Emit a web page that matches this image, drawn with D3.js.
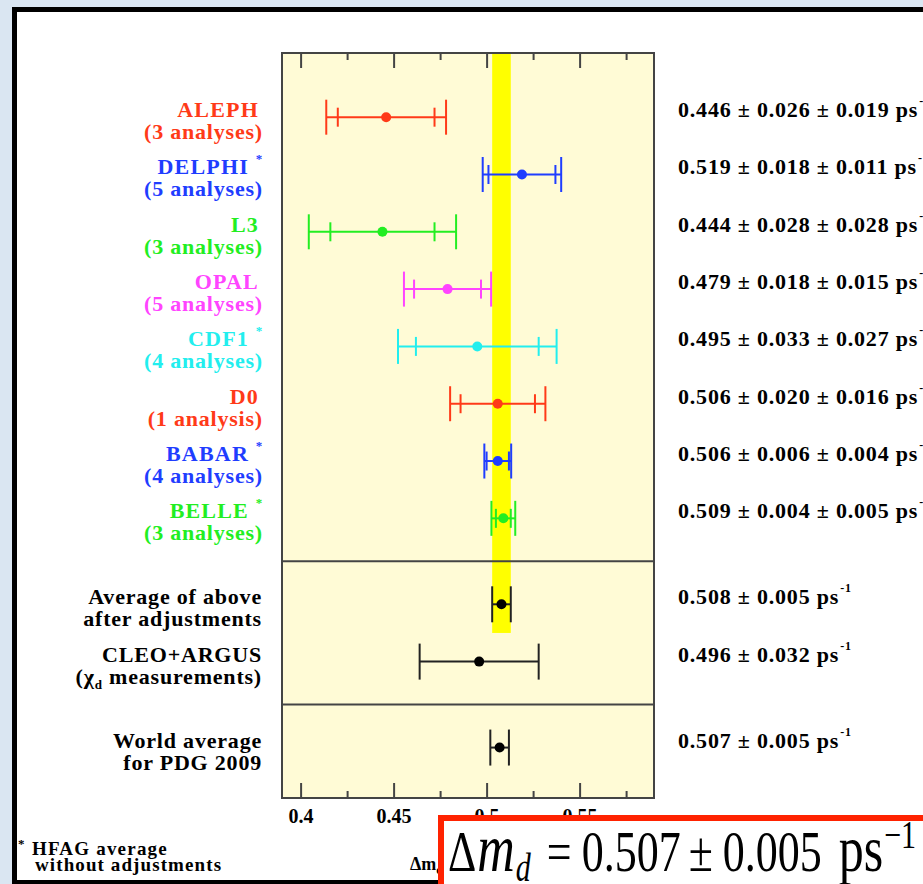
<!DOCTYPE html>
<html>
<head>
<meta charset="utf-8">
<script src="https://cdn.jsdelivr.net/npm/d3@7"></script>
<style>
  html, body { margin: 0; padding: 0; background: #dae6f2; }
  svg { display: block; }
  text { font-family: "Liberation Serif", "Times New Roman", serif; }
</style>
</head>
<body>
<svg id="chart" width="923" height="884"></svg>
<script>
// B0 mixing frequency measurements (ps^-1)
const experiments = ["ALEPH", "DELPHI", "L3", "OPAL", "CDF1", "D0", "BABAR", "BELLE"];
const analyses = ["(3 analyses)", "(5 analyses)", "(3 analyses)", "(5 analyses)",
                  "(4 analyses)", "(1 analysis)", "(4 analyses)", "(3 analyses)"];
const hfagAverage = [false, true, false, false, true, false, true, true];
const expValues = [0.446, 0.519, 0.444, 0.479, 0.495, 0.506, 0.506, 0.509];
const statErrors = [0.026, 0.018, 0.028, 0.018, 0.033, 0.020, 0.006, 0.004];
const systErrors = [0.019, 0.011, 0.028, 0.015, 0.027, 0.016, 0.004, 0.005];
const expColors = ["#ff3a18", "#1f3dff", "#22ee22", "#ff44ff", "#22eeee", "#ff3a18", "#1f3dff", "#22ee22"];

const combinedLines = [["Average of above", "after adjustments"], ["CLEO+ARGUS", "(χ|d| measurements)"]];
const combinedValues = [0.508, 0.496];
const combinedErrors = [0.005, 0.032];

const worldLines = ["World average", "for PDG 2009"];
const worldValue = 0.507;
const worldError = 0.005;

const majorTicks = [0.40, 0.45, 0.50, 0.55];
const majorTickLabels = ["0.4", "0.45", "0.5", "0.55"];
const minorTicks = [0.425, 0.475, 0.525, 0.575];

const svg = d3.select("#chart");
const LS = 0.8; // letter spacing of the label texts

// page frame
svg.append("rect").attr("x", 14.5).attr("y", 9.5).attr("width", 1000).attr("height", 873)
  .attr("fill", "#ffffff").attr("stroke", "#000").attr("stroke-width", 5);

// scales: x in ps^-1, y in row slots (groups separated by half a slot)
const x = d3.scaleLinear().domain([0.39, 0.59]).range([282, 654]);
const y = d3.scaleLinear().domain([-1.12, 11.88]).range([53, 798]);

const expSlots = experiments.map((d, i) => i);
const combinedStart = expSlots[expSlots.length - 1] + 1.5;
const combinedSlots = combinedValues.map((d, i) => combinedStart + i);
const worldSlot = combinedSlots[combinedSlots.length - 1] + 1.5;
const separators = [
  (expSlots[expSlots.length - 1] + combinedSlots[0]) / 2,
  (combinedSlots[combinedSlots.length - 1] + worldSlot) / 2
];

const [x0, x1] = x.range();
const [y0, y1] = y.range();

// plot panel
svg.append("rect").attr("x", x0).attr("y", y0).attr("width", x1 - x0).attr("height", y1 - y0)
  .attr("fill", "#fffbd6");

// yellow band: average of the measurements above
const avg = combinedValues[0], avgErr = combinedErrors[0];
svg.append("rect")
  .attr("x", x(avg - avgErr)).attr("y", y0)
  .attr("width", x(avg + avgErr) - x(avg - avgErr))
  .attr("height", y(combinedSlots[0] + 0.5) - y0)
  .attr("fill", "#ffff00");

// group separators
svg.selectAll("line.sep").data(separators).join("line")
  .attr("class", "sep")
  .attr("x1", x0).attr("x2", x1)
  .attr("y1", d => y(d)).attr("y2", d => y(d))
  .attr("stroke", "#444").attr("stroke-width", 2);

// panel border
svg.append("rect").attr("x", x0).attr("y", y0).attr("width", x1 - x0).attr("height", y1 - y0)
  .attr("fill", "none").attr("stroke", "#444").attr("stroke-width", 2);

// axes
const axisFont = g => g.selectAll("text")
  .attr("font-family", "Liberation Serif, serif").attr("font-weight", "bold")
  .attr("font-size", 20).attr("fill", "#000");

const bottomMajor = svg.append("g").attr("transform", `translate(0,${y1})`)
  .call(d3.axisBottom(x).tickValues(majorTicks).tickSizeInner(-15).tickSizeOuter(0)
    .tickPadding(11).tickFormat((d, i) => majorTickLabels[i]));
bottomMajor.call(axisFont);
const bottomMinor = svg.append("g").attr("transform", `translate(0,${y1})`)
  .call(d3.axisBottom(x).tickValues(minorTicks).tickSizeInner(-7).tickSizeOuter(0).tickFormat(""));
const topMajor = svg.append("g").attr("transform", `translate(0,${y0})`)
  .call(d3.axisTop(x).tickValues(majorTicks).tickSizeInner(-15).tickSizeOuter(0).tickFormat(""));
const topMinor = svg.append("g").attr("transform", `translate(0,${y0})`)
  .call(d3.axisTop(x).tickValues(minorTicks).tickSizeInner(-7).tickSizeOuter(0).tickFormat(""));
[bottomMajor, bottomMinor, topMajor, topMinor].forEach(g => {
  g.select(".domain").remove();
  g.selectAll(".tick line").attr("stroke", "#444").attr("stroke-width", 2);
});

// axis title
const xTitle = svg.append("text").attr("x", 410).attr("y", 870)
  .attr("font-size", 18).attr("font-weight", "bold").attr("fill", "#000");
xTitle.append("tspan").text("Δm");
xTitle.append("tspan").attr("font-size", 12).attr("dy", 4).text("d");
xTitle.append("tspan").attr("dy", -4).text(" (ps");
xTitle.append("tspan").attr("font-size", 12).attr("dy", -8).text("-1");
xTitle.append("tspan").attr("dy", 8).text(")");

// experiment error bars: stat (inner caps) and total (outer caps)
const expData = experiments.map((name, i) => ({
  name, sub: analyses[i], star: hfagAverage[i], v: expValues[i],
  stat: statErrors[i], syst: systErrors[i],
  tot: Math.sqrt(statErrors[i] ** 2 + systErrors[i] ** 2),
  color: expColors[i], slot: expSlots[i]
}));

const eg = svg.selectAll("g.exp").data(expData).join("g").attr("class", "exp")
  .attr("stroke", d => d.color).attr("fill", d => d.color);
eg.append("line").attr("x1", d => x(d.v - d.tot)).attr("x2", d => x(d.v + d.tot))
  .attr("y1", d => y(d.slot)).attr("y2", d => y(d.slot)).attr("stroke-width", 2);
[-1, 1].forEach(s => {
  eg.append("line").attr("x1", d => x(d.v + s * d.tot)).attr("x2", d => x(d.v + s * d.tot))
    .attr("y1", d => y(d.slot) - 17.5).attr("y2", d => y(d.slot) + 17.5).attr("stroke-width", 2);
  eg.append("line").attr("x1", d => x(d.v + s * d.stat)).attr("x2", d => x(d.v + s * d.stat))
    .attr("y1", d => y(d.slot) - 9.5).attr("y2", d => y(d.slot) + 9.5).attr("stroke-width", 2);
});
eg.append("circle").attr("cx", d => x(d.v)).attr("cy", d => y(d.slot)).attr("r", 5).attr("stroke", "none");

// experiment labels
const labelX = 263;
svg.selectAll("text.expname").data(expData).join("text").attr("class", "expname")
  .attr("x", d => d.star ? labelX - 14 : labelX - 4).attr("y", d => y(d.slot))
  .attr("text-anchor", "end").attr("font-size", 22).attr("font-weight", "bold")
  .attr("letter-spacing", LS + 0.4)
  .attr("fill", d => d.color).text(d => d.name);
svg.selectAll("text.expstar").data(expData.filter(d => d.star)).join("text").attr("class", "expstar")
  .attr("x", labelX - 4).attr("y", d => y(d.slot) - 11)
  .attr("text-anchor", "middle").attr("font-size", 13).attr("font-weight", "bold")
  .attr("fill", d => d.color).text("*");
svg.selectAll("text.expsub").data(expData).join("text").attr("class", "expsub")
  .attr("x", labelX).attr("y", d => y(d.slot) + 22)
  .attr("text-anchor", "end").attr("font-size", 22).attr("font-weight", "bold")
  .attr("letter-spacing", LS)
  .attr("fill", d => d.color).text(d => d.sub);

// value texts
const valueX = 678;
function valueText(sel, str) {
  sel.append("tspan").text(str + " ps");
  sel.append("tspan").attr("font-size", 12).attr("dy", -12).attr("dx", 1).text("-1");
}
svg.selectAll("text.expval").data(expData).join("text").attr("class", "expval")
  .attr("x", valueX).attr("y", d => y(d.slot))
  .attr("font-size", 22).attr("font-weight", "bold").attr("fill", "#000")
  .attr("letter-spacing", LS)
  .each(function (d) {
    valueText(d3.select(this), `${d.v.toFixed(3)} ± ${d.stat.toFixed(3)} ± ${d.syst.toFixed(3)}`);
  });

// combined results and world average (black)
const blackData = combinedValues.map((v, i) => ({ v, err: combinedErrors[i], lines: combinedLines[i], slot: combinedSlots[i] }))
  .concat([{ v: worldValue, err: worldError, lines: worldLines, slot: worldSlot }]);

const bg = svg.selectAll("g.blk").data(blackData).join("g").attr("class", "blk")
  .attr("stroke", "#222").attr("fill", "#000");
bg.append("line").attr("x1", d => x(d.v - d.err)).attr("x2", d => x(d.v + d.err))
  .attr("y1", d => y(d.slot)).attr("y2", d => y(d.slot)).attr("stroke-width", 2);
[-1, 1].forEach(s => {
  bg.append("line").attr("x1", d => x(d.v + s * d.err)).attr("x2", d => x(d.v + s * d.err))
    .attr("y1", d => y(d.slot) - 18).attr("y2", d => y(d.slot) + 18).attr("stroke-width", 2);
});
bg.append("circle").attr("cx", d => x(d.v)).attr("cy", d => y(d.slot)).attr("r", 5).attr("stroke", "none");

blackData.forEach(d => {
  d.lines.forEach((line, j) => {
    const t = svg.append("text").attr("x", labelX - 1).attr("y", y(d.slot) + j * 22)
      .attr("text-anchor", "end").attr("font-size", 22).attr("font-weight", "bold")
      .attr("letter-spacing", LS).attr("fill", "#000");
    const parts = line.split("|");
    parts.forEach((p, k) => {
      if (k % 2 === 1) t.append("tspan").attr("font-size", 13).attr("dy", 5).text(p);
      else t.append("tspan").attr("dy", k > 0 ? -5 : 0).text(p);
    });
  });
  const vt = svg.append("text").attr("x", valueX).attr("y", y(d.slot))
    .attr("font-size", 22).attr("font-weight", "bold").attr("letter-spacing", LS).attr("fill", "#000");
  valueText(vt, `${d.v.toFixed(3)} ± ${d.err.toFixed(3)}`);
});

// footnote
svg.append("text").attr("x", 18).attr("y", 848).attr("font-size", 13).attr("font-weight", "bold").text("*");
svg.append("text").attr("x", 32).attr("y", 855).attr("font-size", 19).attr("font-weight", "bold")
  .attr("letter-spacing", 1.2).text("HFAG average");
svg.append("text").attr("x", 35).attr("y", 871).attr("font-size", 19).attr("font-weight", "bold")
  .attr("letter-spacing", 1.1).text("without adjustments");

// highlighted world average
svg.append("rect").attr("x", 441).attr("y", 818).attr("width", 520).attr("height", 100)
  .attr("fill", "#ffffff").attr("stroke", "#ff2200").attr("stroke-width", 6);
const hl = svg.append("text").attr("transform", "translate(448,871) scale(1,1.3)")
  .attr("font-size", 44).attr("fill", "#000");
hl.append("tspan").text("Δ");
hl.append("tspan").attr("font-style", "italic").attr("font-size", 52).attr("dx", 1).text("m");
hl.append("tspan").attr("font-style", "italic").attr("font-size", 30).attr("dx", 1).attr("dy", 8).text("d");
hl.append("tspan").attr("dx", 16).attr("dy", -8).text("=");
hl.append("tspan").attr("dx", 10).text(`${worldValue.toFixed(3)}`);
hl.append("tspan").attr("dx", 8).text("±");
hl.append("tspan").attr("dx", 10).text(`${worldError.toFixed(3)}`);
hl.append("tspan").attr("dx", 17).attr("font-size", 50).text("ps");
hl.append("tspan").attr("font-size", 30).attr("dx", 1).attr("dy", -18).text("−1");
</script>
</body>
</html>
